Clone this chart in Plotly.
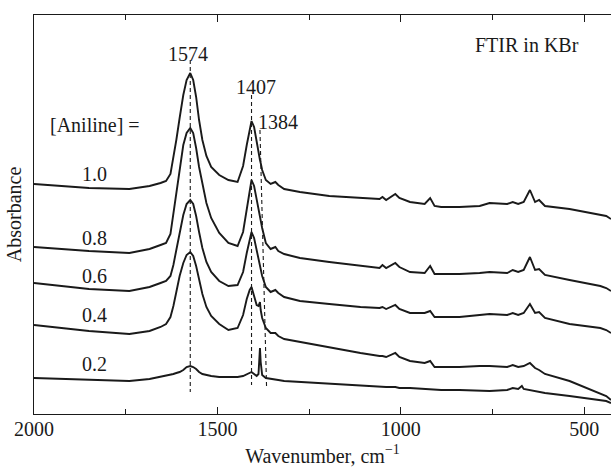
import plotly.graph_objects as go

# Wavenumber grid (cm^-1)
wavenumber = [2000, 1930, 1850, 1740, 1685, 1655, 1640, 1628, 1620, 1612,
              1603, 1593, 1584, 1574, 1566, 1558, 1550, 1541, 1530, 1517,
              1495, 1470, 1445, 1430, 1420, 1412, 1407, 1400, 1393, 1388,
              1386, 1384, 1382, 1378, 1368, 1355, 1342, 1334, 1318, 1275,
              1195, 1110, 1058, 1050, 1040, 1015, 1004, 975, 935, 920,
              908, 890, 840, 785, 758, 710, 695, 680, 670, 665,
              648, 634, 623, 607, 540, 470, 456, 440, 427]

# Offset absorbance spectra (arbitrary units)
abs_10 = [2.30, 2.28, 2.26, 2.25, 2.28, 2.31, 2.33, 2.40, 2.56, 2.74,
          2.96, 3.19, 3.34, 3.41, 3.34, 3.17, 2.94, 2.74, 2.58, 2.47,
          2.39, 2.34, 2.32, 2.48, 2.69, 2.86, 2.93, 2.87, 2.71, 2.59,
          2.56, 2.54, 2.51, 2.44, 2.34, 2.30, 2.32, 2.29, 2.25, 2.22,
          2.18, 2.16, 2.15, 2.17, 2.14, 2.20, 2.16, 2.12, 2.10, 2.16,
          2.08, 2.07, 2.07, 2.08, 2.11, 2.10, 2.12, 2.10, 2.11, 2.12,
          2.24, 2.12, 2.14, 2.08, 2.05, 2.00, 1.99, 1.98, 1.95]
abs_08 = [1.67, 1.65, 1.63, 1.61, 1.65, 1.69, 1.71, 1.80, 2.00, 2.22,
          2.47, 2.69, 2.81, 2.86, 2.81, 2.66, 2.47, 2.29, 2.11, 1.96,
          1.81, 1.71, 1.68, 1.82, 2.06, 2.26, 2.34, 2.28, 2.14, 2.02,
          1.99, 1.96, 1.92, 1.86, 1.71, 1.65, 1.67, 1.63, 1.60, 1.56,
          1.52, 1.48, 1.46, 1.49, 1.46, 1.51, 1.47, 1.42, 1.41, 1.48,
          1.40, 1.40, 1.40, 1.41, 1.42, 1.41, 1.44, 1.42, 1.43, 1.44,
          1.57, 1.44, 1.45, 1.39, 1.34, 1.29, 1.28, 1.26, 1.23]
abs_06 = [1.31, 1.28, 1.25, 1.23, 1.27, 1.31, 1.33, 1.38, 1.49, 1.64,
          1.82, 1.99, 2.10, 2.14, 2.10, 1.98, 1.82, 1.66, 1.52, 1.42,
          1.33, 1.28, 1.29, 1.42, 1.61, 1.76, 1.82, 1.76, 1.64, 1.53,
          1.50, 1.48, 1.44, 1.38, 1.27, 1.22, 1.24, 1.21, 1.17, 1.13,
          1.10, 1.07, 1.06, 1.07, 1.05, 1.09, 1.05, 1.01, 1.01, 1.03,
          0.97, 0.97, 0.97, 0.99, 1.00, 0.99, 1.01, 0.99, 1.00, 1.01,
          1.10, 1.01, 1.02, 0.96, 0.90, 0.87, 0.86, 0.84, 0.81]
abs_04 = [0.89, 0.86, 0.83, 0.80, 0.83, 0.87, 0.90, 0.97, 1.08, 1.22,
          1.38, 1.51, 1.59, 1.62, 1.58, 1.48, 1.34, 1.20, 1.07, 0.98,
          0.90, 0.84, 0.86, 0.99, 1.15, 1.24, 1.27, 1.19, 1.09, 1.08,
          1.10, 1.12, 1.04, 0.96, 0.86, 0.81, 0.81, 0.78, 0.75, 0.72,
          0.67, 0.61, 0.58, 0.58, 0.57, 0.61, 0.57, 0.53, 0.51, 0.53,
          0.47, 0.47, 0.47, 0.48, 0.48, 0.47, 0.49, 0.47, 0.48, 0.48,
          0.51, 0.46, 0.44, 0.40, 0.33, 0.23, 0.21, 0.18, 0.14]
abs_02 = [0.36, 0.35, 0.34, 0.33, 0.35, 0.37, 0.38, 0.39, 0.40, 0.41,
          0.42, 0.44, 0.47, 0.48, 0.47, 0.45, 0.42, 0.40, 0.39, 0.38,
          0.37, 0.37, 0.37, 0.38, 0.40, 0.41, 0.42, 0.40, 0.38, 0.40,
          0.52, 0.66, 0.52, 0.39, 0.36, 0.35, 0.34, 0.34, 0.33, 0.32,
          0.30, 0.28, 0.27, 0.27, 0.27, 0.27, 0.26, 0.26, 0.25, 0.25,
          0.25, 0.24, 0.24, 0.23, 0.23, 0.24, 0.26, 0.25, 0.28, 0.25,
          0.24, 0.23, 0.22, 0.21, 0.18, 0.15, 0.14, 0.13, 0.11]

series = [abs_10, abs_08, abs_06, abs_04, abs_02]
aniline_labels = ["1.0", "0.8", "0.6", "0.4", "0.2"]
label_y = [2.40, 1.76, 1.38, 0.99, 0.50]

# Marked peak positions with dashed guide lines (top/bottom ends)
peak_labels = ["1574", "1407", "1384"]
guide_top_x = [1574, 1407, 1384]
guide_bot_x = [1574, 1407, 1366]
guide_top_y = [3.54, 3.19, 2.84]
guide_bot_y = [0.22, 0.29, 0.27]

FONT = "Liberation Serif, Times New Roman, serif"
INK = "#1a1a1a"
FS = 20

fig = go.Figure()
for ys in series:
    fig.add_trace(go.Scatter(x=wavenumber, y=ys, mode="lines",
                             line=dict(color=INK, width=1.9),
                             showlegend=False, hoverinfo="skip"))

for xt, xb, yt, yb in zip(guide_top_x, guide_bot_x, guide_top_y, guide_bot_y):
    fig.add_trace(go.Scatter(x=[xt, xb], y=[yt, yb], mode="lines",
                             line=dict(color=INK, width=1.1, dash="4px,3px"),
                             showlegend=False, hoverinfo="skip"))

tf = dict(size=FS, color=INK, family=FONT)
ann = []
for lab, yv in zip(aniline_labels, label_y):
    ann.append(dict(x=1836, y=yv, text=lab, showarrow=False, font=tf))
ann.append(dict(x=1833, y=2.89, text="[Aniline] =", showarrow=False, font=tf))
ann.append(dict(x=1579, y=3.60, text=peak_labels[0], showarrow=False, font=tf))
ann.append(dict(x=1395, y=3.27, text=peak_labels[1], showarrow=False, font=tf))
ann.append(dict(x=1335, y=2.92, text=peak_labels[2], showarrow=False, font=tf))
ann.append(dict(x=655, y=3.69, text="FTIR in KBr", showarrow=False, font=tf))

fig.update_layout(
    width=611, height=476,
    margin=dict(l=34, r=0, t=15, b=62),
    paper_bgcolor="white", plot_bgcolor="white",
    font=tf,
    annotations=ann,
    xaxis=dict(range=[2000, 427], showgrid=False, zeroline=False,
               showline=True, linecolor=INK, linewidth=1.3, mirror="ticks",
               ticks="inside", ticklen=7, tickwidth=1.1, tickcolor=INK,
               tickvals=[2000, 1500, 1000, 500],
               ticktext=["2000", "1500", "1000", "500"],
               ticklabelstandoff=-3,
               minor=dict(ticks="inside", ticklen=5, tickwidth=1.1,
                          tickcolor=INK, tickvals=[1750, 1250, 750]),
               tickfont=tf,
               title=dict(text="Wavenumber, cm<sup>\u22121</sup>",
                          font=tf, standoff=9)),
    yaxis=dict(range=[0, 3.99], showgrid=False, zeroline=False,
               showline=True, linecolor=INK, linewidth=1.3,
               showticklabels=False, ticks="",
               title=dict(text="Absorbance", font=tf, standoff=5)),
)

fig.write_html("out.html")
